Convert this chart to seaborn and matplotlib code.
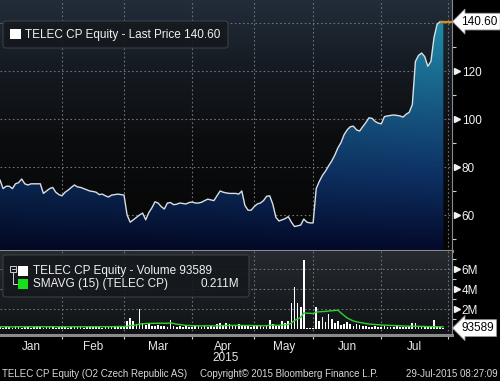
import numpy as np
import pandas as pd
import matplotlib
matplotlib.use("Agg")
import matplotlib.pyplot as plt
import matplotlib.transforms as mtransforms
from matplotlib.patches import FancyBboxPatch, Rectangle
from matplotlib.lines import Line2D
from matplotlib.colors import LinearSegmentedColormap, to_rgb
import seaborn as sns

# daily closes (one value per trading day, 2 Jan - 29 Jul 2015)
price = [
    74.6, 71, 72, 72, 71, 73, 73.5, 75, 73, 72.5,
    73, 73, 73, 73, 69, 70, 71, 71.5, 69.5, 68.5,
    68, 69.5, 70.4, 71.5, 72.5, 71.7, 71.5, 71, 70.5, 70,
    69.8, 69.5, 68.5, 68.7, 68, 67.5, 68.3, 68.5, 68.7, 68.5,
    68.3, 60, 57, 58, 59, 60, 60.8, 58, 61, 63,
    65.5, 65, 63.5, 62.5, 65, 65.2, 64.3, 64.5, 65, 64.8,
    64.6, 65.2, 65.4, 65, 65, 65.3, 66, 66.6, 66.3, 66,
    68, 70, 69.5, 69.2, 69, 69, 69, 68.7, 70, 64,
    62, 62, 63.5, 64.6, 65, 66, 67.8, 68, 64.5, 59,
    57.5, 58, 58.5, 59.3, 57, 55.2, 55.5, 55.8, 58.3, 57,
    56.7, 56.7, 71, 74, 76.5, 78.3, 80.5, 82.5, 85, 88,
    90.2, 93.5, 95.5, 96.8, 97, 95.5, 95, 96.8, 98.5, 100.5,
    100.3, 99, 98.3, 98, 101, 101.3, 101.5, 101.7, 101.5, 101.3,
    100.8, 102, 102.8, 106, 124, 126.5, 127.5, 126, 122, 124,
    134, 139.5, 140.6, 140.6,
]

# daily volume, millions of shares
volume = [
    0.2, 0.15, 0.25, 0.2, 0.1, 0.3, 0.2, 0.15, 0.2, 0.25,
    0.1, 0.2, 0.3, 0.2, 0.15, 0.2, 0.35, 0.2, 0.15, 0.2,
    0.25, 0.2, 0.15, 0.2, 0.3, 0.2, 0.2, 0.15, 0.25, 0.2,
    0.2, 0.3, 0.2, 0.15, 0.2, 0.25, 0.2, 0.3, 0.25, 0.35,
    0.3, 0.8, 1.1, 0.8, 0.5, 2.0, 0.6, 0.4, 0.6, 0.3,
    0.3, 0.4, 0.3, 0.3, 0.2, 0.9, 0.3, 0.25, 0.3, 0.2,
    0.3, 0.25, 0.2, 0.3, 0.35, 0.2, 0.3, 0.25, 0.3, 0.2,
    0.5, 0.6, 0.4, 0.6, 0.5, 0.3, 0.4, 0.5, 0.3, 0.35,
    0.3, 0.25, 0.3, 0.35, 0.3, 0.25, 0.3, 0.9, 0.5, 0.3,
    0.4, 0.8, 0.6, 0.8, 2.6, 4.2, 2.6, 2.2, 6.9, 0.15,
    0.15, 0.1, 2.2, 0.8, 1.2, 0.7, 1.5, 1.0, 0.6, 0.8,
    0.4, 0.5, 0.7, 0.5, 0.3, 0.5, 0.4, 0.3, 0.3, 0.25,
    0.2, 0.3, 0.25, 0.2, 0.3, 0.25, 0.2, 0.2, 0.3, 0.25,
    0.2, 0.2, 0.3, 0.6, 0.6, 0.3, 0.2, 0.25, 0.2, 0.3,
    0.9, 0.3, 0.2, 0.094,
]

# 15 day simple moving average of volume, millions
smavg = [
    0.22, 0.23, 0.23, 0.22, 0.21, 0.22, 0.23, 0.22, 0.22, 0.23,
    0.22, 0.22, 0.23, 0.23, 0.22, 0.22, 0.23, 0.23, 0.22, 0.22,
    0.22, 0.21, 0.22, 0.22, 0.23, 0.22, 0.22, 0.21, 0.22, 0.22,
    0.23, 0.23, 0.22, 0.22, 0.22, 0.23, 0.23, 0.24, 0.24, 0.25,
    0.24, 0.28, 0.34, 0.38, 0.4, 0.5, 0.52, 0.54, 0.56, 0.56,
    0.57, 0.58, 0.58, 0.58, 0.57, 0.6, 0.55, 0.48, 0.45, 0.4,
    0.36, 0.34, 0.33, 0.32, 0.32, 0.31, 0.32, 0.32, 0.32, 0.3,
    0.32, 0.33, 0.34, 0.35, 0.36, 0.36, 0.36, 0.37, 0.37, 0.37,
    0.36, 0.35, 0.34, 0.33, 0.32, 0.32, 0.33, 0.37, 0.38, 0.37,
    0.37, 0.4, 0.42, 0.45, 0.6, 0.85, 1.0, 1.15, 1.6, 1.58,
    1.57, 1.55, 1.7, 1.72, 1.75, 1.76, 1.8, 1.82, 1.85, 1.88,
    1.6, 1.35, 1.1, 0.95, 0.8, 0.72, 0.66, 0.6, 0.55, 0.5,
    0.48, 0.45, 0.42, 0.4, 0.38, 0.37, 0.36, 0.35, 0.33, 0.32,
    0.3, 0.29, 0.28, 0.28, 0.28, 0.27, 0.26, 0.25, 0.24, 0.23,
    0.24, 0.23, 0.22, 0.211,
]

months = ["Jan", "Feb", "Mar", "Apr", "May", "Jun", "Jul"]
# trading-day index where each month starts (Feb .. Aug)
month_edges = [20, 40, 62, 82, 101, 123, 144.5]

assert len(price) == len(volume) == len(smavg)
df = pd.DataFrame({"day": np.arange(len(price)), "price": price,
                   "volume": volume, "smavg": smavg})

sns.set_style("dark")
plt.rcParams["font.family"] = ["Liberation Sans", "DejaVu Sans"]

W, H = 500, 381
fig = plt.figure(figsize=(W / 100, H / 100), dpi=100, facecolor="black")


def fx(x):
    return x / W


def fy(y):
    return 1 - y / H


ax = fig.add_axes([0, fy(251), fx(452), 251 / H])
axv = fig.add_axes([0, fy(335), fx(452), 84 / H])

xmax = 145.8
grid_kw = dict(color="#6c7278", lw=0.8, linestyle=(0, (1.5, 2.2)))
lab = 8.5

# ---- price panel ----
ylo, yhi = 45, 149.6
ax.set_xlim(0, xmax)
ax.set_ylim(ylo, yhi)
bg = LinearSegmentedColormap.from_list(
    "bg", [(0, "#050505"), (0.45, "#0c0d0f"), (0.75, "#161c23"), (1, "#222d3a")])
ax.imshow(np.linspace(0, 1, 256)[:, None], cmap=bg, origin="lower", aspect="auto",
          extent=[0, 1, 0, 1], transform=ax.transAxes, zorder=0)

# gradient fill under the price line
nv, nh = 200, 60
vv = np.linspace(0, 1, nv)[:, None]
hh = np.linspace(0, 1, nh)[None, :]
c_low = np.array(to_rgb("#030826"))
c_mid = np.array(to_rgb("#0c2c5a"))
c_high = np.array(to_rgb("#1e7c98"))
t1 = np.clip(vv / 0.3, 0, 1)[..., None]
t2 = np.clip((vv - 0.3) / 0.6, 0, 1)[..., None]
img = c_low * (1 - t1) + c_mid * t1
img = img * (1 - t2) + c_high * t2
img = img * (0.9 + 0.2 * hh[..., None])
img = np.clip(img, 0, 1)
fill = ax.fill_between(df["day"], df["price"], ylo, color="none", lw=0)
im = ax.imshow(img, origin="lower", aspect="auto",
               extent=[0, len(price) - 1, ylo, yhi], zorder=1)
im.set_clip_path(fill.get_paths()[0], ax.transData)

sns.lineplot(data=df, x="day", y="price", ax=ax, color="#d9dee3", lw=1.0, zorder=3)
ax.hlines(price[-1], len(price) - 2, xmax, color="#d98c1f", lw=1.6, zorder=4)

ax.set_yticks([60, 80, 100, 120, 140])
ax.set_yticks([50, 70, 90, 110, 130], minor=True)
ax.set_xticks(month_edges)
ax.grid(True, which="major", **grid_kw)
ax.set_xticklabels([])
ax.yaxis.tick_right()
ax.set_yticklabels(["60", "80", "100", "120", ""])
ax.tick_params(axis="y", which="major", length=0, pad=7, labelsize=lab,
               labelcolor="#f2f2f2")
ax.tick_params(axis="y", which="minor", length=3, width=0.8, color="#d0d0d0", right=True)
ax.tick_params(axis="x", length=0)
ax.set_xlabel("")
ax.set_ylabel("")
for s in ["top", "left"]:
    ax.spines[s].set_visible(False)
ax.spines["right"].set_color("#8a8a8a")
ax.spines["right"].set_linewidth(0.8)
ax.spines["bottom"].set_color("#8a8a8a")
ax.spines["bottom"].set_linewidth(2.2)

tri = mtransforms.blended_transform_factory(ax.transAxes, ax.transData)
ax.plot([1.012] * 4, [60, 80, 100, 120], ls="none", marker=">", ms=4,
        color="#f2f2f2", transform=tri, clip_on=False, zorder=5)
ax.text(1.021, price[-1], "140.60", transform=tri, ha="left", va="center",
        fontsize=lab, color="black", zorder=6,
        bbox=dict(boxstyle="larrow,pad=0.2", fc="white", ec="#9a9a9a", lw=0.6))

# ---- volume panel ----
axv.set_xlim(0, xmax)
axv.set_ylim(-0.6, 7.8)
bgv = LinearSegmentedColormap.from_list("bgv", ["#101215", "#262b31"])
axv.imshow(np.linspace(0, 1, 256)[:, None], cmap=bgv, origin="lower", aspect="auto",
           extent=[0, 1, 0, 1], transform=axv.transAxes, zorder=0)
sns.barplot(data=df, x="day", y="volume", ax=axv, native_scale=True, width=0.55,
            color="white", saturation=1, edgecolor="none", zorder=3)
sns.lineplot(data=df, x="day", y="smavg", ax=axv, color="#2fd12f", lw=1.0, zorder=4)
axv.set_xlim(0, xmax)
axv.set_ylim(-0.6, 7.8)

axv.set_yticks([2, 4, 6])
axv.set_yticks([1, 3, 5, 7], minor=True)
axv.yaxis.tick_right()
axv.set_yticklabels(["2M", "4M", "6M"])
axv.tick_params(axis="y", which="major", length=0, pad=7, labelsize=lab,
                labelcolor="#f2f2f2")
axv.tick_params(axis="y", which="minor", length=3, width=0.8, color="#d0d0d0", right=True)
axv.set_xticks(month_edges)
axv.set_xticks([(a + b) / 2 for a, b in zip([0] + month_edges[:-1], month_edges)],
               minor=True)
axv.set_xticklabels([], minor=False)
axv.set_xticklabels(months, minor=True)
axv.tick_params(axis="x", which="major", length=3, width=0.8, color="#d0d0d0",
                direction="out", bottom=True)
axv.tick_params(axis="x", which="minor", length=0, pad=4, labelsize=lab,
                labelcolor="#e8e8e8")
axv.grid(True, which="major", **grid_kw)
axv.set_xlabel("")
axv.set_ylabel("")
for s in ["top", "left"]:
    axv.spines[s].set_visible(False)
axv.spines["right"].set_color("#8a8a8a")
axv.spines["right"].set_linewidth(0.8)
axv.spines["bottom"].set_color("#8a8a8a")
axv.spines["bottom"].set_linewidth(2.2)

triv = mtransforms.blended_transform_factory(axv.transAxes, axv.transData)
axv.plot([1.012] * 3, [2, 4, 6], ls="none", marker=">", ms=4,
         color="#f2f2f2", transform=triv, clip_on=False, zorder=5)
axv.text(1.021, volume[-1], "93589", transform=triv, ha="left", va="center",
         fontsize=lab, color="black", zorder=6,
         bbox=dict(boxstyle="larrow,pad=0.2", fc="white", ec="#9a9a9a", lw=0.6))

# ---- legends ----
txt = "#f0f0f0"
fig.patches.append(FancyBboxPatch((fx(3), fy(48)), fx(225), 27 / H,
                                  boxstyle="round,pad=0,rounding_size=0.006",
                                  transform=fig.transFigure, fc="#15191e",
                                  ec="#3c4248", lw=0.8, alpha=0.9))
fig.patches.append(Rectangle((fx(10), fy(39)), fx(11), 10 / H,
                             transform=fig.transFigure, fc="white", ec="none"))
fig.text(fx(25), fy(35), "TELEC CP Equity - Last Price 140.60", color=txt,
         fontsize=lab, va="center", ha="left")

fig.patches.append(FancyBboxPatch((fx(3), fy(297)), fx(246), 42 / H,
                                  boxstyle="round,pad=0,rounding_size=0.006",
                                  transform=fig.transFigure, fc="#15191e",
                                  ec="#3c4248", lw=0.8, alpha=0.9))
fig.patches.append(Rectangle((fx(18), fy(276)), fx(10), 10 / H,
                             transform=fig.transFigure, fc="white", ec="none"))
fig.patches.append(Rectangle((fx(18), fy(289)), fx(10), 10 / H,
                             transform=fig.transFigure, fc="#18e018", ec="none"))
fig.patches.append(Rectangle((fx(10), fy(272)), fx(6), 6 / H,
                             transform=fig.transFigure, fc="none", ec="#d0d0d0", lw=0.7))
fig.lines.append(Line2D([fx(11.5), fx(14.5)], [fy(269), fy(269)],
                        transform=fig.transFigure, color="#d0d0d0", lw=0.7))
fig.lines.append(Line2D([fx(13), fx(13), fx(17)], [fy(272), fy(284), fy(284)],
                        transform=fig.transFigure, color="#d0d0d0", lw=0.7))
fig.text(fx(33), fy(271), "TELEC CP Equity - Volume 93589", color=txt,
         fontsize=lab, va="center", ha="left")
fig.text(fx(33), fy(284), "SMAVG (15) (TELEC CP)", color=txt,
         fontsize=lab, va="center", ha="left")
fig.text(fx(239), fy(284), "0.211M", color=txt, fontsize=lab, va="center", ha="right")

# ---- year and footer ----
fig.text(fx(226), fy(358), "2015", color="#e8e8e8", fontsize=lab, ha="center", va="center")
foot = "#d8d8d8"
fig.text(fx(2), fy(374), "TELEC CP Equity (O2 Czech Republic AS)", color=foot,
         fontsize=7, ha="left", va="center")
fig.text(fx(200), fy(374), "Copyright\u00a9 2015 Bloomberg Finance L.P.", color=foot,
         fontsize=7, ha="left", va="center")
fig.text(fx(498), fy(374), "29-Jul-2015 08:27:09", color=foot,
         fontsize=7, ha="right", va="center")

fig.savefig("out.png", dpi=100, facecolor="black")
